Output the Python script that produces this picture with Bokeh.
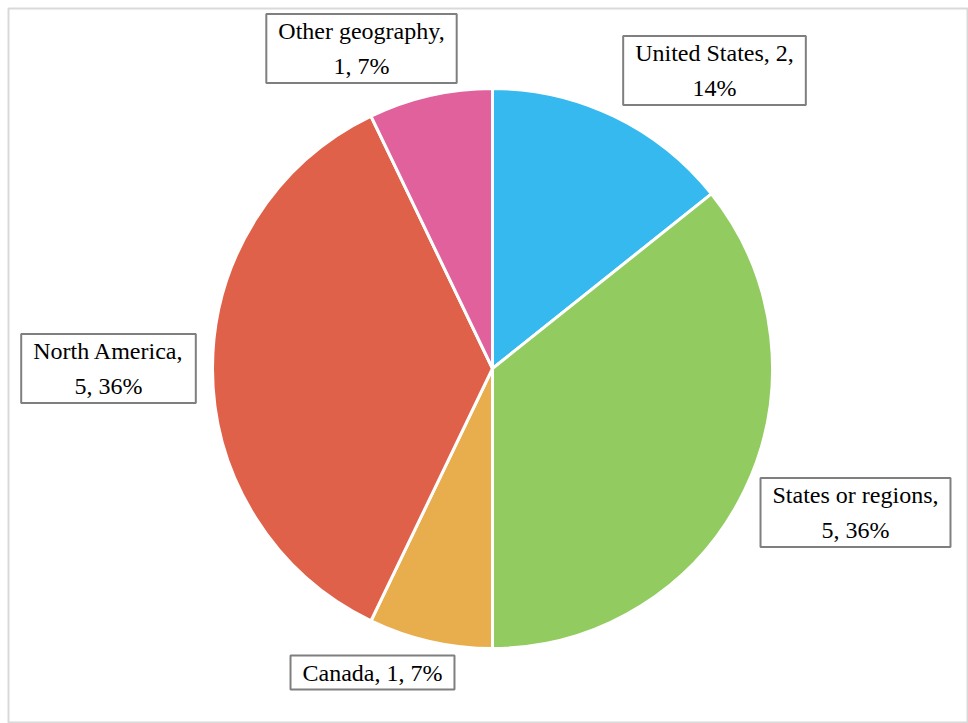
from bokeh.plotting import figure
from bokeh.models import ColumnDataSource, Range1d
from bokeh.core.properties import value
from bokeh.embed import file_html
from bokeh.resources import INLINE
import math

# ---- data ----
categories = ["United States", "States or regions", "Canada", "North America", "Other geography"]
counts = [2, 5, 1, 5, 1]
colors = ["#36B9EE", "#92CB5F", "#E8AD4C", "#E0614A", "#E0619B"]
# label text lines (Excel-style wrapping)
label_texts = ["United States, 2,\n14%", "States or regions,\n5, 36%", "Canada, 1, 7%",
               "North America,\n5, 36%", "Other geography,\n1, 7%"]
# label anchor positions (data units, = screen px with y flipped)
label_x = [714, 855, 372, 108, 361]
label_y = [723 - 70, 723 - 512, 723 - 672, 723 - 368, 723 - 48]

W, H = 968, 723
cx, cy, R = 492, 723 - 368, 280

total = sum(counts)
starts, ends, pcts = [], [], []
acc = 0
for c in counts:
    starts.append(math.pi / 2 - 2 * math.pi * acc / total)
    acc += c
    ends.append(math.pi / 2 - 2 * math.pi * acc / total)
    pcts.append(c / total)

p = figure(width=W, height=H, output_backend="svg", toolbar_location=None,
           x_range=Range1d(8, W - 1), y_range=Range1d(1, H - 8),
           min_border_left=8, min_border_top=8, min_border_right=1, min_border_bottom=1)
p.axis.visible = False
p.grid.visible = False
p.outline_line_color = "#D9D9D9"
p.outline_line_width = 2
p.background_fill_color = "white"
p.border_fill_color = "white"

src = ColumnDataSource(dict(cat=categories, val=counts, color=colors,
                            start=starts, end=ends, pct=pcts))
p.wedge(x=cx, y=cy, radius=R, start_angle="start", end_angle="end",
        direction="clock", fill_color="color", line_color="white", line_width=3,
        source=src)

lsrc = ColumnDataSource(dict(x=label_x, y=label_y, text=label_texts))
p.text(x="x", y="y", text="text", source=lsrc,
       text_align="center", text_baseline="middle",
       text_font=value("Liberation Serif"), text_font_size="24px",
       text_color="#000000", text_line_height=1.35,
       border_line_color="#7F7F7F", border_line_width=2,
       background_fill_color="white", padding=(12, 4))

open("out.html", "w").write(file_html(p, INLINE))
